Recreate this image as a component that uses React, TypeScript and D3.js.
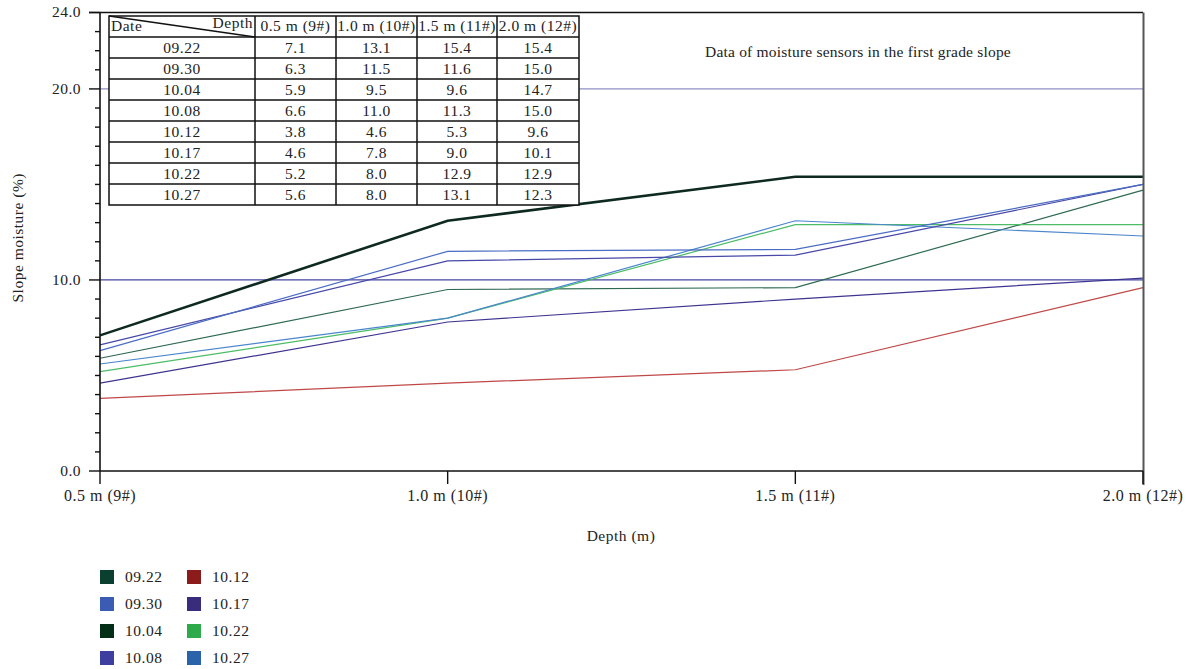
import React, { useRef, useEffect } from "react";
import * as d3 from "d3";

// depth positions (x categories)
const depths = ["0.5 m (9#)", "1.0 m (10#)", "1.5 m (11#)", "2.0 m (12#)"];

// dates (series)
const dates = ["09.22", "09.30", "10.04", "10.08", "10.12", "10.17", "10.22", "10.27"];

// slope moisture (%) per date, one value per depth
const v0922 = [7.1, 13.1, 15.4, 15.4];
const v0930 = [6.3, 11.5, 11.6, 15.0];
const v1004 = [5.9, 9.5, 9.6, 14.7];
const v1008 = [6.6, 11.0, 11.3, 15.0];
const v1012 = [3.8, 4.6, 5.3, 9.6];
const v1017 = [4.6, 7.8, 9.0, 10.1];
const v1022 = [5.2, 8.0, 12.9, 12.9];
const v1027 = [5.6, 8.0, 13.1, 12.3];

const seriesValues = [v0922, v0930, v1004, v1008, v1012, v1017, v1022, v1027];

const seriesColors = ["#0b3f2f", "#3a5cb2", "#022d17", "#3f3f9f", "#8c1c1c", "#3a2c7c", "#2eaa4a", "#2b63ab"];
const lineColors = ["#0e2a20", "#4a6cc4", "#2f6a52", "#4848a8", "#c04848", "#3e3490", "#4cbc66", "#4a86cc"];

// reference levels
const refLevels = [20, 10];
const refColors = ["#9090c8", "#4444a0"];

// y ticks
const yMajor = [0, 10, 20, 24];
const yLabels = ["0.0", "10.0", "20.0", "24.0"];

const FONT = "'Liberation Serif', 'Times New Roman', serif";

const App: React.FC = () => {
  const svgRef = useRef<SVGSVGElement>(null);

  useEffect(() => {
    const width = 1186;
    const height = 669;
    const margin = { top: 12.5, right: 43, bottom: 198, left: 100 };

    const svg = d3.select(svgRef.current);
    svg.selectAll("*").remove();
    svg.attr("width", width).attr("height", height);

    const txt = (g: any, size = 15.5, spacing = 0.5) =>
      g.append("text")
        .attr("font-family", FONT)
        .attr("font-size", size)
        .attr("letter-spacing", spacing)
        .attr("fill", "#222");

    const x = d3
      .scalePoint<string>()
      .domain(depths)
      .range([margin.left, width - margin.right]);

    const y = d3
      .scaleLinear()
      .domain([0, 24])
      .range([height - margin.bottom, margin.top]);

    const x0 = margin.left;
    const x1 = width - margin.right;
    const yBottom = y(0);
    const yTop = y(24);

    // reference lines
    refLevels.forEach((lv, i) => {
      svg.append("line")
        .attr("x1", x0).attr("x2", x1)
        .attr("y1", y(lv)).attr("y2", y(lv))
        .attr("stroke", refColors[i])
        .attr("stroke-width", 1.3);
    });

    // series lines
    const line = d3
      .line<number>()
      .x((_, i) => x(depths[i]) as number)
      .y(d => y(d));

    const order = [4, 5, 2, 6, 7, 3, 1, 0];
    order.forEach(si => {
      svg.append("path")
        .datum(seriesValues[si])
        .attr("d", line)
        .attr("fill", "none")
        .attr("stroke", lineColors[si])
        .attr("stroke-width", si === 0 ? 2.6 : 1.2);
    });

    // frame: top + right
    svg.append("line")
      .attr("x1", x0 - 11).attr("x2", x1)
      .attr("y1", yTop).attr("y2", yTop)
      .attr("stroke", "#111").attr("stroke-width", 1.5);
    svg.append("line")
      .attr("x1", x1 + 0.5).attr("x2", x1 + 0.5)
      .attr("y1", yTop).attr("y2", yBottom + 14)
      .attr("stroke", "#555").attr("stroke-width", 2);

    // y axis
    const yAxis = svg.append("g");
    yAxis.append("line")
      .attr("x1", x0).attr("x2", x0)
      .attr("y1", yTop).attr("y2", yBottom)
      .attr("stroke", "#111").attr("stroke-width", 1.6);
    d3.range(0, 25).forEach(t => {
      const major = yMajor.includes(t);
      yAxis.append("line")
        .attr("x1", x0 - (major ? 11 : 5)).attr("x2", x0)
        .attr("y1", y(t)).attr("y2", y(t))
        .attr("stroke", "#111").attr("stroke-width", 1.4);
    });
    yMajor.forEach((t, i) => {
      txt(yAxis)
        .attr("x", x0 - 19).attr("y", y(t))
        .attr("dy", "0.32em")
        .attr("text-anchor", "end")
        .text(yLabels[i]);
    });
    txt(yAxis)
      .attr("transform", `translate(23, ${(yTop + yBottom) / 2 - 4}) rotate(-90)`)
      .attr("text-anchor", "middle")
      .text("Slope moisture (%)");

    // x axis
    const xAxis = svg.append("g");
    xAxis.append("line")
      .attr("x1", x0).attr("x2", x1)
      .attr("y1", yBottom).attr("y2", yBottom)
      .attr("stroke", "#111").attr("stroke-width", 1.6);
    depths.forEach(d => {
      xAxis.append("line")
        .attr("x1", x(d) as number).attr("x2", x(d) as number)
        .attr("y1", yBottom).attr("y2", yBottom + 13)
        .attr("stroke", "#111").attr("stroke-width", 1.4);
      txt(xAxis, 16, 0.5)
        .attr("x", x(d) as number).attr("y", yBottom + 30)
        .attr("text-anchor", "middle")
        .text(d);
    });
    txt(xAxis)
      .attr("x", 621).attr("y", 541)
      .attr("text-anchor", "middle")
      .text("Depth (m)");

    // title inside plot
    txt(svg, 15.5, 0.2)
      .attr("x", 705).attr("y", 57)
      .text("Data of moisture sensors in the first grade slope");

    // data table
    const colX = [109, 255, 336, 417, 497, 579];
    const rowH = 21;
    const tTop = 16;
    const nRows = dates.length + 1;
    const table = svg.append("g");
    table.append("rect")
      .attr("x", colX[0]).attr("y", tTop)
      .attr("width", colX[5] - colX[0]).attr("height", rowH * nRows)
      .attr("fill", "#fff").attr("stroke", "#111").attr("stroke-width", 1.5);
    for (let r = 1; r < nRows; r++) {
      table.append("line")
        .attr("x1", colX[0]).attr("x2", colX[5])
        .attr("y1", tTop + r * rowH).attr("y2", tTop + r * rowH)
        .attr("stroke", "#111").attr("stroke-width", 1.5);
    }
    colX.slice(1, 5).forEach(cx => {
      table.append("line")
        .attr("x1", cx).attr("x2", cx)
        .attr("y1", tTop).attr("y2", tTop + rowH * nRows)
        .attr("stroke", "#111").attr("stroke-width", 1.5);
    });
    // diagonal header
    table.append("line")
      .attr("x1", colX[0]).attr("y1", tTop)
      .attr("x2", colX[1]).attr("y2", tTop + rowH)
      .attr("stroke", "#111").attr("stroke-width", 1.3);
    const cellText = (tx: number, ty: number, s: string, anchor = "middle") =>
      txt(table, 15.5, 0.5)
        .attr("x", tx).attr("y", ty)
        .attr("text-anchor", anchor)
        .text(s);
    cellText(colX[0] + 2, tTop + 15, "Date", "start");
    cellText(colX[1] - 2, tTop + 12, "Depth", "end");
    depths.forEach((d, i) => cellText((colX[i + 1] + colX[i + 2]) / 2, tTop + 15, d));
    dates.forEach((dt, r) => {
      const ty = tTop + (r + 1) * rowH + 15.5;
      cellText((colX[0] + colX[1]) / 2, ty, dt);
      seriesValues[r].forEach((v, c) => {
        cellText((colX[c + 1] + colX[c + 2]) / 2, ty, v.toFixed(1));
      });
    });

    // legend
    const legend = svg.append("g");
    dates.forEach((dt, i) => {
      const col = Math.floor(i / 4);
      const row = i % 4;
      const lx = 100 + col * 87;
      const ly = 570 + row * 27;
      legend.append("rect")
        .attr("x", lx).attr("y", ly)
        .attr("width", 14).attr("height", 14)
        .attr("fill", seriesColors[i]);
      txt(legend)
        .attr("x", lx + 25).attr("y", ly + 7)
        .attr("dy", "0.35em")
        .text(dt);
    });
  }, []);

  return (
    <div style={{ position: "absolute", left: 0, top: 0, width: 1186, height: 669, background: "#fff" }}>
      <svg ref={svgRef} style={{ display: "block" }} />
    </div>
  );
};

export default App;
